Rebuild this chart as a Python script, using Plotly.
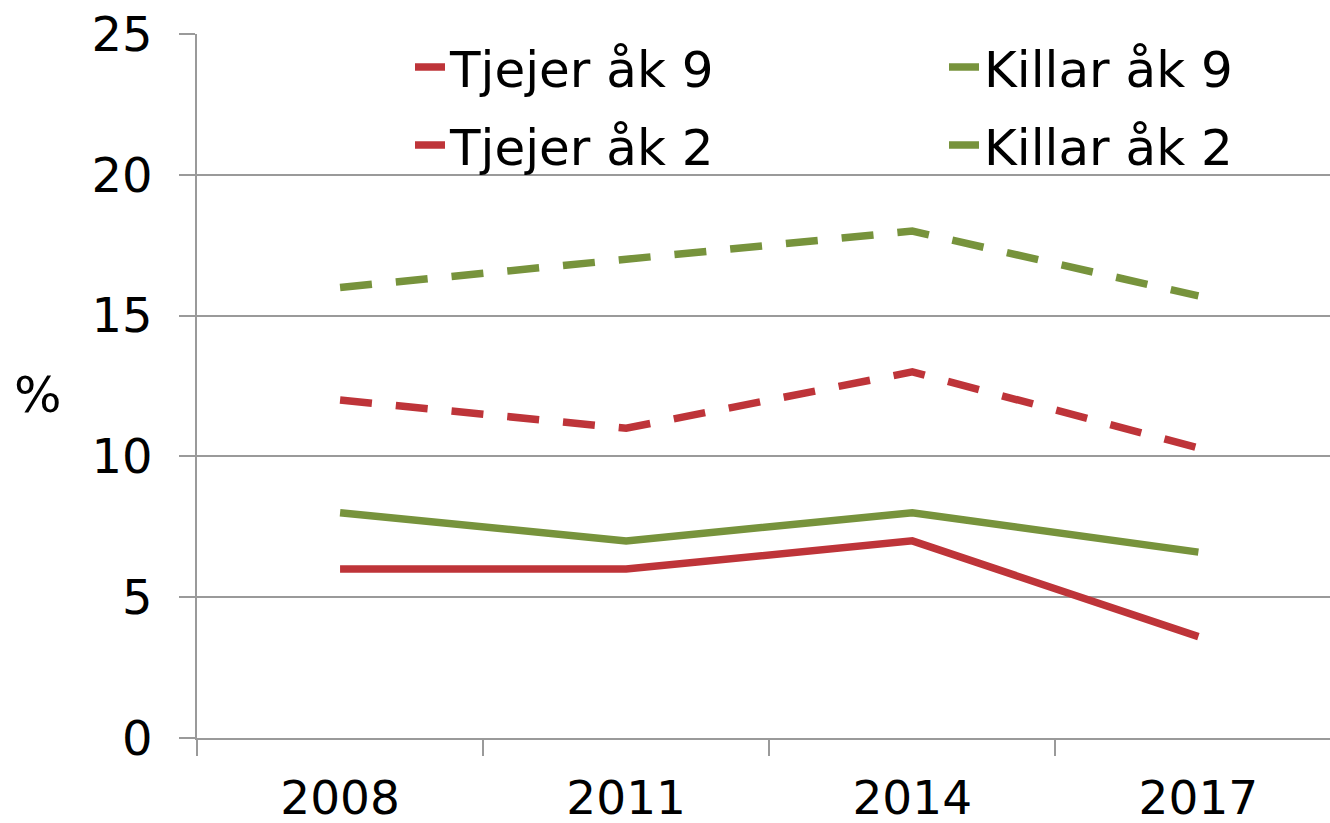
import plotly.graph_objects as go

years = ["2008", "2011", "2014", "2017"]
tjejer_ak9 = [6, 6, 7, 3.6]
killar_ak9 = [8, 7, 8, 6.6]
tjejer_ak2 = [12, 11, 13, 10.3]
killar_ak2 = [16, 17, 18, 15.7]

RED = "#BE3439"
GREEN = "#77933C"
GRID = "#9A9A9A"
FONT = "DejaVu Sans"
DASH = "32px,24px"

W, H = 1330, 823
L, T, PW, PH = 197, 34, 1133, 704

fig = go.Figure()
fig.add_trace(go.Scatter(x=years, y=tjejer_ak9, name="Tjejer åk 9", mode="lines",
                         line=dict(color=RED, width=7.5), legend="legend"))
fig.add_trace(go.Scatter(x=years, y=killar_ak9, name="Killar åk 9", mode="lines",
                         line=dict(color=GREEN, width=7.5), legend="legend2"))
fig.add_trace(go.Scatter(x=years, y=tjejer_ak2, name="Tjejer åk 2", mode="lines",
                         line=dict(color=RED, width=7.5, dash=DASH), legend="legend3"))
fig.add_trace(go.Scatter(x=years, y=killar_ak2, name="Killar åk 2", mode="lines",
                         line=dict(color=GREEN, width=7.5, dash=DASH), legend="legend4"))


def leg(xpx, ypx):
    return dict(x=(xpx - L) / PW, y=(T + PH - ypx) / PH, xanchor="left",
                yanchor="middle", font=dict(family=FONT, size=50, color="black"),
                bgcolor="rgba(0,0,0,0)", borderwidth=0)


fig.update_layout(
    width=W, height=H,
    margin=dict(l=L, r=W - L - PW, t=T, b=H - T - PH, autoexpand=False),
    paper_bgcolor="white", plot_bgcolor="white",
    font=dict(family=FONT, size=46, color="black"),
    showlegend=True,
    legend=leg(410, 67),
    legend2=leg(944, 67),
    legend3=leg(410, 145),
    legend4=leg(944, 145),
    xaxis=dict(type="category", categoryorder="array", categoryarray=years,
               range=[-0.5, 3.46], showgrid=False, showline=True, linecolor=GRID,
               linewidth=1.5, ticks="outside", tickson="boundaries", ticklen=16,
               tickcolor=GRID, tickwidth=1.5, ticklabelstandoff=18,
               tickfont=dict(family=FONT, size=47, color="black")),
    yaxis=dict(range=[0, 25], dtick=5, showgrid=True, gridcolor=GRID, gridwidth=1.5,
               showline=True, linecolor=GRID, linewidth=1.5, zeroline=False,
               ticks="outside", ticklen=16, tickcolor=GRID, tickwidth=1.5,
               ticklabelstandoff=17,
               tickfont=dict(family=FONT, size=48, color="black")),
    annotations=[dict(text="%", xref="paper", yref="paper",
                      x=(38 - L) / PW, y=(T + PH - 395) / PH,
                      showarrow=False, xanchor="center", yanchor="middle",
                      font=dict(family=FONT, size=50, color="black"))],
)

fig.write_html("out.html", config={"displayModeBar": False},
               post_script="document.body.style.margin='0';"
                           "document.documentElement.style.overflow='hidden';")
